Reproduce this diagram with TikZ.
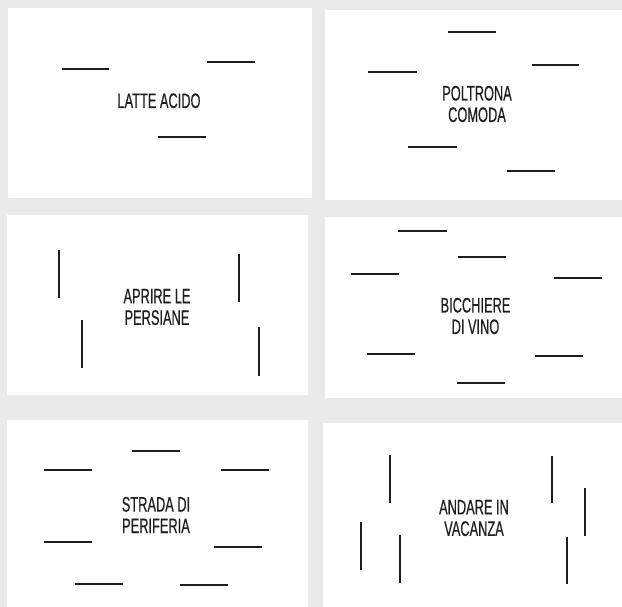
\documentclass[tikz,border=0pt]{standalone}
\usepackage{fontspec}
\newfontfamily\condfont[FakeStretch=0.61,FakeBold=0.4]{Liberation Sans}
\definecolor{bggray}{HTML}{E8EBE8}
\definecolor{inkc}{HTML}{1E1E1E}
\begin{document}
\begin{tikzpicture}[x=1pt,y=-1pt,
  panel/.style={fill=white,draw=none},
  bar/.style={draw=inkc,line width=2pt},
  caption/.style={font=\condfont\fontsize{21}{21.5}\selectfont,text=inkc,align=center,inner sep=0pt}]
\fill[bggray] (0,0) rectangle (622,607);
\useasboundingbox (0,0) rectangle (622,607);
% panels
\fill[panel] (8,8) rectangle (312,198);
\fill[panel] (325,10) rectangle (622,200);
\fill[panel] (7,215) rectangle (308,395);
\fill[panel] (325,217) rectangle (622,398);
\fill[panel] (7,420) rectangle (308,607);
\fill[panel] (323,423) rectangle (622,607);
% panel 1
\node[caption,anchor=base] (t1) at (159,108) {LATTE ACIDO};
\draw[bar] (62,69) -- (109,69);
\draw[bar] (207,62) -- (255,62);
\draw[bar] (158,137) -- (206,137);
% panel 2
\node[caption] (t2) at (477,104) {POLTRONA\\COMODA};
\draw[bar] (448,32) -- (496,32);
\draw[bar] (368,72) -- (417,72);
\draw[bar] (532,65) -- (579,65);
\draw[bar] (408,147) -- (457,147);
\draw[bar] (507,171) -- (555,171);
% panel 3
\node[caption] (t3) at (157,307) {APRIRE LE\\PERSIANE};
\draw[bar] (59,250) -- (59,298);
\draw[bar] (82,320) -- (82,368);
\draw[bar] (239,254) -- (239,302);
\draw[bar] (259,327) -- (259,376);
% panel 4
\node[caption] (t4) at (475.5,316) {BICCHIERE\\DI VINO};
\draw[bar] (398,231) -- (447,231);
\draw[bar] (458,257) -- (506,257);
\draw[bar] (351,274) -- (399,274);
\draw[bar] (554,278) -- (602,278);
\draw[bar] (367,354) -- (415,354);
\draw[bar] (535,356) -- (583,356);
\draw[bar] (457,383) -- (505,383);
% panel 5
\node[caption] (t5) at (156,515) {STRADA DI\\PERIFERIA};
\draw[bar] (132,451) -- (180,451);
\draw[bar] (44,470) -- (92,470);
\draw[bar] (221,470) -- (269,470);
\draw[bar] (44,542) -- (92,542);
\draw[bar] (214,547) -- (262,547);
\draw[bar] (75,584) -- (123,584);
\draw[bar] (180,585) -- (228,585);
% panel 6
\node[caption] (t6) at (474,518) {ANDARE IN\\VACANZA};
\draw[bar] (390,455) -- (390,503);
\draw[bar] (361,522) -- (361,570);
\draw[bar] (400,535) -- (400,583);
\draw[bar] (552,456) -- (552,503);
\draw[bar] (585,488) -- (585,536);
\draw[bar] (567,537) -- (567,584);
\end{tikzpicture}
\end{document}
